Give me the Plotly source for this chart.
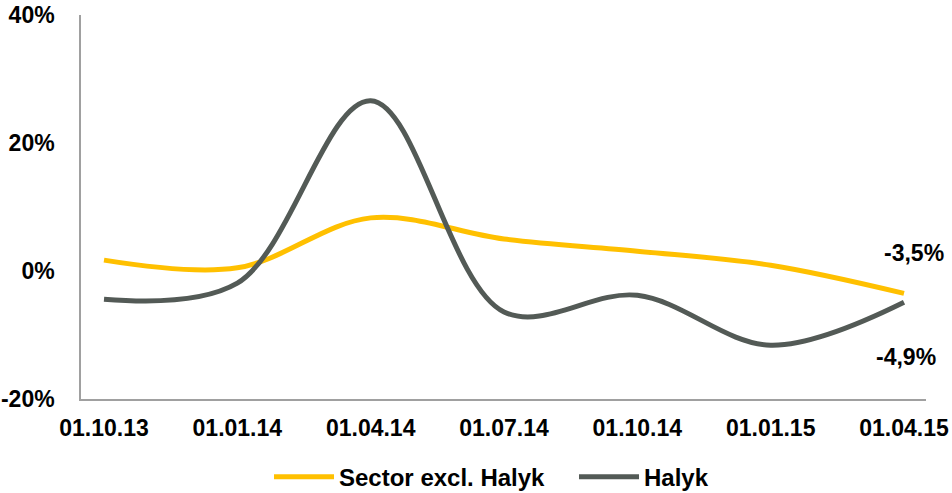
import plotly.graph_objects as go

categories = ["01.10.13", "01.01.14", "01.04.14", "01.07.14", "01.10.14", "01.01.15", "01.04.15"]
sector_values = [1.7, 0.5, 8.3, 5.0, 3.1, 0.9, -3.5]
halyk_values = [-4.4, -1.9, 26.6, -6.4, -3.8, -11.6, -4.9]
sector_name = "Sector excl. Halyk"
halyk_name = "Halyk"
y_tick_vals = [-20, 0, 20, 40]
y_tick_text = ["-20%", "0%", "20%", "40%"]
end_labels = ["-3,5%", "-4,9%"]

FONT = "Liberation Sans, Arial, sans-serif"
YELLOW = "#FFC000"
GREY = "#535A56"

fig = go.Figure()
fig.add_trace(go.Scatter(x=categories, y=sector_values, name=sector_name, mode="lines",
                         line=dict(color=YELLOW, width=5, shape="spline", smoothing=1.0)))
fig.add_trace(go.Scatter(x=categories, y=halyk_values, name=halyk_name, mode="lines",
                         line=dict(color=GREY, width=5, shape="spline", smoothing=1.0)))

fig.add_annotation(x=categories[-1], y=sector_values[-1], text="<b>" + end_labels[0] + "</b>",
                   showarrow=False, xshift=10, yshift=40,
                   font=dict(family=FONT, size=23, color="#000000"))
fig.add_annotation(x=categories[-1], y=halyk_values[-1], text="<b>" + end_labels[1] + "</b>",
                   showarrow=False, xshift=2, yshift=-55,
                   font=dict(family=FONT, size=23, color="#000000"))

fig.update_layout(
    width=952, height=493,
    margin=dict(l=81, r=26, t=15, b=94, autoexpand=False),
    paper_bgcolor="white", plot_bgcolor="white",
    font=dict(family=FONT, size=22, color="#000000"),
    showlegend=True,
    legend=dict(orientation="h", x=0.2225, xanchor="left", xref="paper",
                y=-0.145, yanchor="top",
                font=dict(family=FONT, size=24, color="#000000", weight="bold"),
                itemwidth=60, entrywidth=230, entrywidthmode="pixels"),
)
fig.update_xaxes(type="category", range=[-0.1725, 6.165], showgrid=False, zeroline=False,
                 showline=True, linecolor="#A0A0A0", linewidth=1.5, ticks="", automargin=False,
                 tickfont=dict(family=FONT, size=23, color="#000000", weight="bold"),
                 ticklabelstandoff=8, fixedrange=True)
fig.update_yaxes(range=[-20, 40], tickvals=y_tick_vals, ticktext=y_tick_text,
                 showgrid=False, zeroline=False, showline=True, linecolor="#A0A0A0",
                 linewidth=1.5, ticks="", automargin=False,
                 tickfont=dict(family=FONT, size=23, color="#000000", weight="bold"),
                 ticklabelstandoff=20, fixedrange=True)

fig.write_html("out.html", config={"displayModeBar": False},
               post_script="document.body.style.margin='0';document.body.style.overflow='hidden';")
